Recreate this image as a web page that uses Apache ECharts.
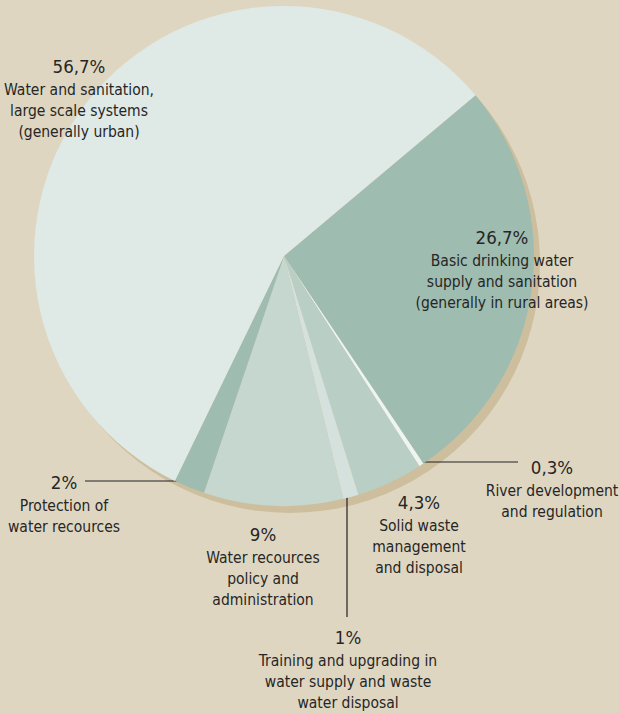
<!DOCTYPE html>
<html><head><meta charset="utf-8">
<script src="https://cdn.jsdelivr.net/npm/echarts@6/dist/echarts.min.js"></script>
<style>html,body{margin:0;padding:0;background:#dfd6c1;} #c{width:619px;height:713px;}</style>
</head><body><div id="c"></div>
<script>
const categories = [
  'Basic drinking water supply and sanitation (generally in rural areas)',
  'River development and regulation',
  'Solid waste management and disposal',
  'Training and upgrading in water supply and waste water disposal',
  'Water recources policy and administration',
  'Protection of water recources',
  'Water and sanitation, large scale systems (generally urban)'
];
const values = [26.7, 0.3, 4.3, 1, 9, 2, 56.7];
const percentLabels = ['26,7%', '0,3%', '4,3%', '1%', '9%', '2%', '56,7%'];
const descLines = [
  ['Basic drinking water', 'supply and sanitation', '(generally in rural areas)'],
  ['River development', 'and regulation'],
  ['Solid waste', 'management', 'and disposal'],
  ['Training and upgrading in', 'water supply and waste', 'water disposal'],
  ['Water recources', 'policy and', 'administration'],
  ['Protection of', 'water recources'],
  ['Water and sanitation,', 'large scale systems', '(generally urban)']
];

// styling / layout (not data)
const colors = ['#9fbcb0', '#eef4f1', '#b9cfc6', '#d4e1dc', '#c6d7d0', '#9fbcb0', '#dfe9e6'];
const labelPos = [
  { x: 502, y: 224 },
  { x: 552, y: 454, line: [[417, 462], [468, 462], [518, 462]] },
  { x: 419, y: 489 },
  { x: 348, y: 624, line: [[347, 495], [347, 556], [347, 617]] },
  { x: 263, y: 521 },
  { x: 64, y: 469, line: [[187, 481], [136, 481], [85, 481]] },
  { x: 79, y: 53 }
];
const FONT = "'DejaVu Sans Condensed', 'DejaVu Sans', sans-serif";
const TEXT = '#262626';

const chart = echarts.init(document.getElementById('c'), null, { renderer: 'svg' });
const pieData = categories.map((name, i) => ({
  name: name,
  value: values[i],
  itemStyle: { color: colors[i] },
  label: {
    formatter: '{p|' + percentLabels[i] + '}\n' + descLines[i].map(s => '{d|' + s + '}').join('\n')
  },
  labelLine: { show: !!labelPos[i].line }
}));

chart.setOption({
  backgroundColor: '#dfd6c1',
  animation: false,
  series: [
    {
      type: 'pie',
      silent: true,
      z: 1,
      center: [290, 263],
      radius: 250,
      label: { show: false },
      labelLine: { show: false },
      data: [{ value: 1, itemStyle: { color: '#cdbf9d' } }]
    },
    {
      type: 'pie',
      z: 2,
      center: [284, 256],
      radius: 250,
      startAngle: 40,
      clockwise: true,
      avoidLabelOverlap: false,
      itemStyle: { borderWidth: 0 },
      emphasis: { disabled: true },
      label: {
        show: true,
        position: 'outside',
        color: TEXT,
        fontFamily: FONT,
        align: 'center',
        rich: {
          p: { fontSize: 18.5, lineHeight: 26, fontFamily: FONT, color: TEXT, align: 'center' },
          d: { fontSize: 15.5, lineHeight: 21, fontFamily: FONT, color: TEXT, align: 'center' }
        }
      },
      labelLine: { lineStyle: { color: '#222222', width: 1.2 } },
      labelLayout: function (params) {
        const lp = labelPos[params.dataIndex];
        const out = { x: lp.x, y: lp.y, align: 'center', verticalAlign: 'top' };
        if (lp.line) out.labelLinePoints = lp.line;
        return out;
      },
      data: pieData
    }
  ]
});
</script></body></html>
